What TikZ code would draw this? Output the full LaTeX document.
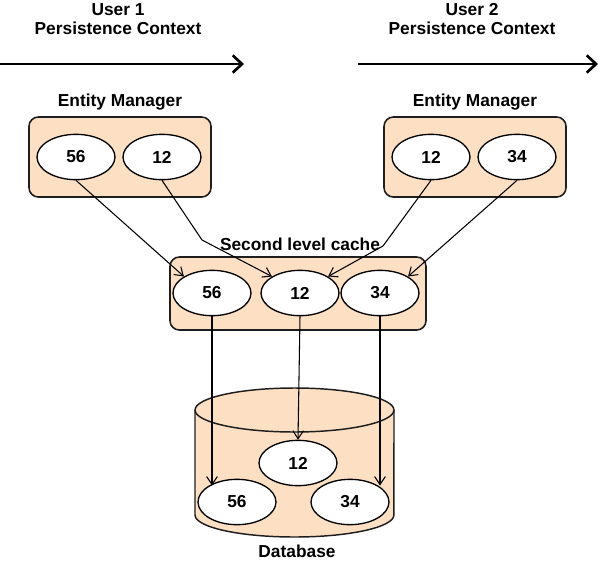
\documentclass[tikz,border=0pt]{standalone}
\usepackage{fontspec}
\setmainfont{Liberation Sans}
\usetikzlibrary{arrows.meta,positioning,shapes.geometric}
\definecolor{peach}{HTML}{FDDFC3}
\definecolor{edge}{HTML}{1E1E1E}

\begin{document}
\begin{tikzpicture}[
        x=0.75pt,y=0.75pt,
        font=\fontsize{13}{14.5}\selectfont\bfseries,
        box/.style={draw=edge,line width=1.2pt,fill=peach,rounded corners=7pt},
        obj/.style={ellipse,draw=black,line width=1pt,fill=white,
          minimum width=58.5pt,minimum height=34pt,inner sep=0pt},
        lbl/.style={inner sep=1pt,align=center},
        ctx/.style={-{Straight Barb[length=7pt,width=13pt]},line width=2pt},
        arr/.style={-{Straight Barb[length=6pt,width=8pt]},line width=0.8pt}
      ]
        \useasboundingbox (0,0) rectangle (600,-561);
        % persistence contexts
        \node[lbl] (ctx1) at (118,-19) {User 1\\Persistence Context};
        \node[lbl] (ctx2) at (472,-19) {User 2\\Persistence Context};
        \coordinate (c1a) at (0,-64);
        \coordinate (c1b) at (244,-64);
        \coordinate (c2a) at (358,-64);
        \coordinate (c2b) at (598,-64);
        \draw[ctx] (c1a) -- (c1b);
        \draw[ctx] (c2a) -- (c2b);
        % entity managers
        \node[box,minimum width=136.5pt,minimum height=60pt] (emL) at (120,-157) {};
        \node[box,minimum width=136.5pt,minimum height=60pt] (emR) at (475,-157) {};
        \node[lbl,above=3pt of emL] (emLt) {Entity Manager};
        \node[lbl,above=3pt of emR] (emRt) {Entity Manager};
        \node[obj] (em56) at (76,-157) {56};
        \node[obj] (em12a) at (162,-157) {12};
        \node[obj] (em12b) at (431,-157) {12};
        \node[obj] (em34) at (517,-157) {34};
        % second level cache
        \node[box,minimum width=192pt,minimum height=54.75pt] (cache) at (298,-293.5) {};
        \node[lbl,above=3pt of cache,xshift=1.5pt] (cachet) {Second level cache};
        \node[obj] (ca56) at (212,-293) {56};
        \node[obj] (ca12) at (300,-293) {12};
        \node[obj] (ca34) at (380,-293) {34};
        % database
        \fill[peach] (195,-410) -- (195,-515) arc[start angle=180,end angle=360,x radius=74.6pt,y radius=16.5pt]
          -- (394,-410) arc[start angle=0,end angle=180,x radius=74.6pt,y radius=16.5pt] -- cycle;
        \draw[edge,line width=1.1pt] (195,-410) -- (195,-515) arc[start angle=180,end angle=360,x radius=74.6pt,y radius=16.5pt] -- (394,-410);
        \draw[edge,line width=1.1pt] (294.5,-410) ellipse[x radius=74.6pt,y radius=16.5pt];
        \node[lbl] (dbt) at (297,-551) {Database};
        \node[obj] (db12) at (298,-463) {12};
        \node[obj] (db56) at (237,-502) {56};
        \node[obj] (db34) at (350,-502) {34};
        % connectors
        \coordinate (k1) at (202,-240);
        \coordinate (k2) at (383,-246);
        \draw[arr] (em56.south) -- (ca56.north west);
        \draw[arr] (em12a.south) -- (k1) -- (ca12.north west);
        \draw[arr] (em12b.south) -- (k2) -- (ca12.north east);
        \draw[arr] (em34.south) -- (ca34.north east);
        \draw[arr] (ca56.south) -- (ca56.south |- db56.north west);
        \draw[arr] (ca12.south) -- (db12.north);
        \draw[arr] (ca34.south) -- (ca34.south |- db34.north east);
      \end{tikzpicture}
\end{document}
